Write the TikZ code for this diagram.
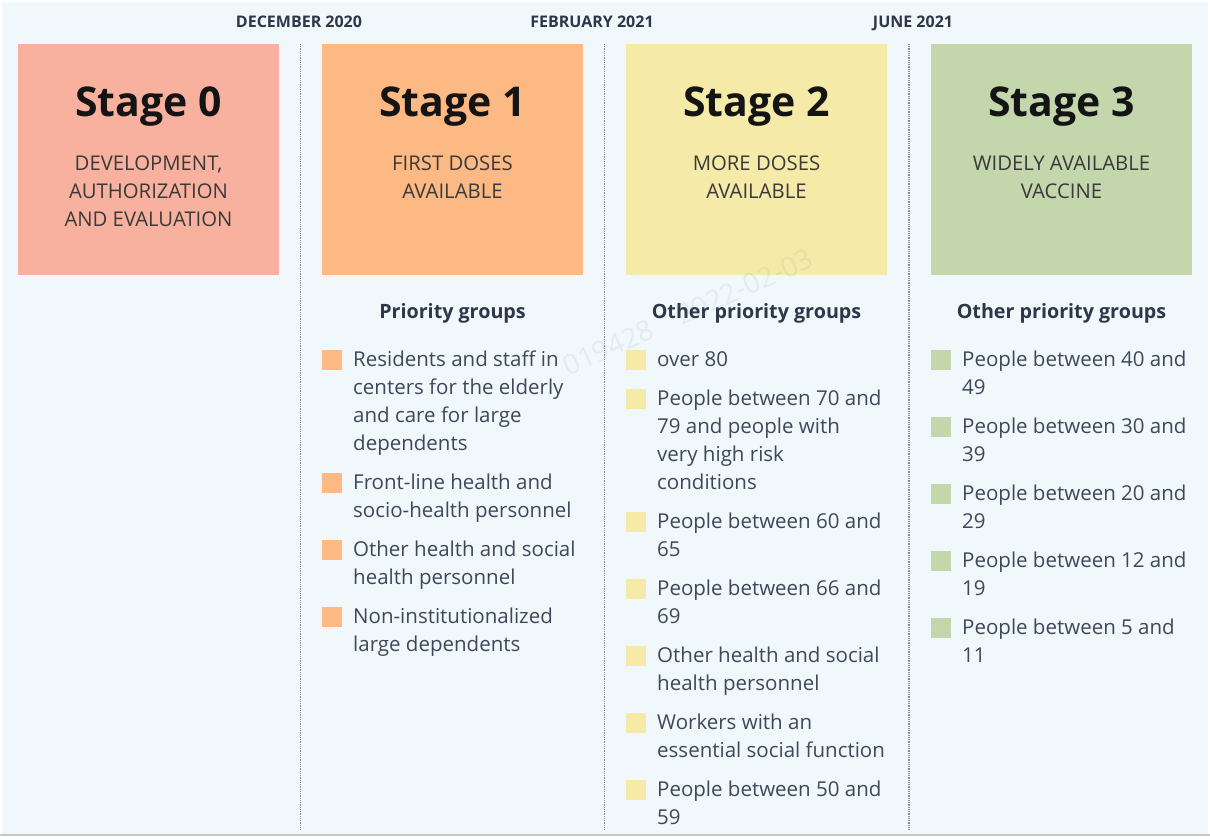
\documentclass[tikz,border=0pt]{standalone}
\usepackage{fontspec}
\setmainfont{Open Sans}
\definecolor{bg}{HTML}{F0F8FC}
\definecolor{sA}{HTML}{F9B19F}
\definecolor{sB}{HTML}{FDB984}
\definecolor{sC}{HTML}{F5EAA7}
\definecolor{sD}{HTML}{C3D6AC}
\definecolor{txt}{HTML}{3F4859}
\definecolor{hdr}{HTML}{2E3649}
\definecolor{sub}{HTML}{3A3A3A}
\definecolor{sep}{HTML}{858D97}
\definecolor{wm}{HTML}{8A96A2}
\tikzset{
  stagebox/.style={minimum width=261pt,minimum height=231pt,inner sep=0pt,draw=none},
  title/.style={font=\fontsize{41}{48}\selectfont\bfseries,text=black!92,inner sep=0pt,anchor=base},
  subt/.style={font=\fontsize{20.3}{28}\selectfont,text=sub,align=center,inner sep=0pt,anchor=base},
  datel/.style={font=\fontsize{16}{20}\selectfont\bfseries,text=hdr,inner sep=0pt,anchor=base},
  grphead/.style={font=\fontsize{19.7}{24}\selectfont\bfseries,text=hdr,inner sep=0pt,anchor=base},
  sq/.style={minimum size=20pt,inner sep=0pt,draw=none},
  itm/.style={font=\fontsize{20.5}{28}\selectfont,text=txt,align=left,inner sep=0pt,anchor=base west},
  sepline/.style={draw=sep,line width=1.4pt,dash pattern=on 1pt off 0.8pt}
}
\begin{document}
\begin{tikzpicture}[x=1pt,y=-1pt]
\useasboundingbox (0,0) rectangle (1210,840);
\fill[white] (0,0) rectangle (1210,840);
\fill[bg] (2,2) rectangle (1208,834);
\draw[draw=black!22,line width=1.5pt] (0,835) -- (1210,835);
% separators
\coordinate (l1t) at (300.5,44); \coordinate (l1b) at (300.5,830);
\coordinate (l2t) at (604.5,44); \coordinate (l2b) at (604.5,830);
\coordinate (l3t) at (909,44);   \coordinate (l3b) at (909,830);
\draw[sepline] (l1t) -- (l1b);
\draw[sepline] (l2t) -- (l2b);
\draw[sepline] (l3t) -- (l3b);
% dates
\node[datel] (d1) at (299,28) {DECEMBER 2020};
\node[datel] (d2) at (592,28) {FEBRUARY 2021};
\node[datel] (d3) at (913,28) {JUNE 2021};
% stage boxes
\node[stagebox,fill=sA] (b0) at (148.5,159.5) {};
\node[stagebox,fill=sB] (b1) at (452.5,159.5) {};
\node[stagebox,fill=sC] (b2) at (756.5,159.5) {};
\node[stagebox,fill=sD] (b3) at (1061.5,159.5) {};
\node[title] (t0) at (148.5,117) {Stage 0};
\node[title] (t1) at (452.5,117) {Stage 1};
\node[title] (t2) at (756.5,117) {Stage 2};
\node[title] (t3) at (1061.5,117) {Stage 3};
\node[subt] (u0) at (148.5,226) {DEVELOPMENT,\\AUTHORIZATION\\AND EVALUATION};
\node[subt] (u1) at (452.5,198) {FIRST DOSES\\AVAILABLE};
\node[subt] (u2) at (756.5,198) {MORE DOSES\\AVAILABLE};
\node[subt] (u3) at (1061.5,198) {WIDELY AVAILABLE\\VACCINE};
% group headers
\node[grphead] (h1) at (452.5,318) {Priority groups};
\node[grphead] (h2) at (756.5,318) {Other priority groups};
\node[grphead] (h3) at (1061.5,318) {Other priority groups};
% stage 1 items (anchor = baseline of last line)
\node[sq,fill=sB] (q1a) at (332,360) {};
\node[itm] (i1a) at (353,450) {Residents and staff in\\centers for the elderly\\and care for large\\dependents};
\node[sq,fill=sB] (q1b) at (332,483) {};
\node[itm] (i1b) at (353,517) {Front-line health and\\socio-health personnel};
\node[sq,fill=sB] (q1c) at (332,550) {};
\node[itm] (i1c) at (353,584) {Other health and social\\health personnel};
\node[sq,fill=sB] (q1d) at (332,617) {};
\node[itm] (i1d) at (353,651) {Non-institutionalized\\large dependents};
% stage 2 items
\node[sq,fill=sC] (q2a) at (636,360) {};
\node[itm] (i2a) at (657,366) {over 80};
\node[sq,fill=sC] (q2b) at (636,399) {};
\node[itm] (i2b) at (657,489) {People between 70 and\\79 and people with\\very high risk\\conditions};
\node[sq,fill=sC] (q2c) at (636,522) {};
\node[itm] (i2c) at (657,556) {People between 60 and\\65};
\node[sq,fill=sC] (q2d) at (636,589) {};
\node[itm] (i2d) at (657,623) {People between 66 and\\69};
\node[sq,fill=sC] (q2e) at (636,656) {};
\node[itm] (i2e) at (657,690) {Other health and social\\health personnel};
\node[sq,fill=sC] (q2f) at (636,723) {};
\node[itm] (i2f) at (657,757) {Workers with an\\essential social function};
\node[sq,fill=sC] (q2g) at (636,790) {};
\node[itm] (i2g) at (657,824) {People between 50 and\\59};
% stage 3 items
\node[sq,fill=sD] (q3a) at (941,360) {};
\node[itm] (i3a) at (962,394) {People between 40 and\\49};
\node[sq,fill=sD] (q3b) at (941,427) {};
\node[itm] (i3b) at (962,461) {People between 30 and\\39};
\node[sq,fill=sD] (q3c) at (941,494) {};
\node[itm] (i3c) at (962,528) {People between 20 and\\29};
\node[sq,fill=sD] (q3d) at (941,561) {};
\node[itm] (i3d) at (962,595) {People between 12 and\\19};
\node[sq,fill=sD] (q3e) at (941,628) {};
\node[itm] (i3e) at (962,662) {People between 5 and\\11};
% faint watermark on top
\node[font=\fontsize{28}{30}\selectfont,text=wm,text opacity=0.13,rotate=24,inner sep=0pt] (wmk) at (688,312) {019428\quad 2022-02-03};
\end{tikzpicture}
\end{document}
